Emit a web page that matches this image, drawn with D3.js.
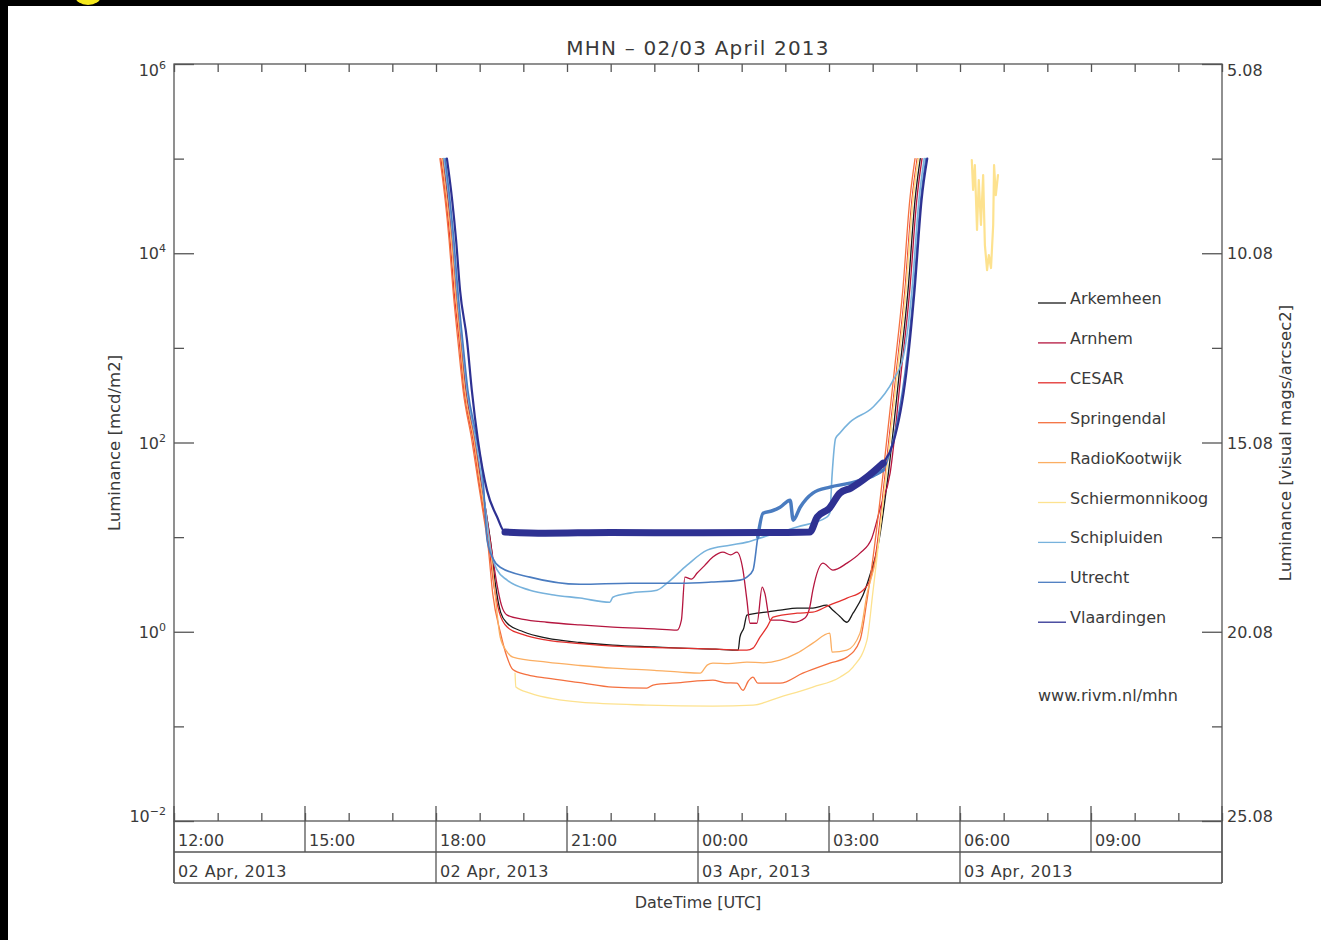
<!DOCTYPE html>
<html lang="en">
<head>
<meta charset="UTF-8">
<title>MHN - 02/03 April 2013</title>
<style>
  body { margin:0; background:#fff; }
  svg { display:block; font-family:"DejaVu Sans", sans-serif; }
  .frame { fill:none; stroke:#555; stroke-width:1.3; }
  .tick line, .rule { stroke:#555; stroke-width:1.3; }
  .domain { display:none; }
  text { fill:#3a3a3a; }
  .series { fill:none; stroke-linejoin:round; stroke-linecap:round; }
</style>
</head>
<body>
<svg id="chart" width="1321" height="940"></svg>
<script src="https://d3js.org/d3.v7.min.js"></script>
<script>
// hours counted from 02 Apr 2013 00:00 UTC, luminance in mcd/m2
var stations = ["Arkemheen", "Arnhem", "CESAR", "Springendal", "RadioKootwijk",
                "Schiermonnikoog", "Schipluiden", "Utrecht", "Vlaardingen"];
var stationColors = ["#1a1a1a", "#b5163f", "#e3302d", "#f4703f", "#fbae62",
                     "#fde28f", "#77b2dc", "#4a7cc0", "#2e3192"];

var arkemheen = [[18.16,1e5],[18.28,36500],[18.37,13800],[18.46,4090],[18.57,1210],[18.69,358],[18.89,106],[19.03,40],
  [19.15,17.9],[19.26,8.2],[19.36,3.2],[19.48,1.6],[19.63,1.23],[20.0,1.0],[20.54,0.855],[21.3,0.77],[22.05,0.722],
  [23.0,0.69],[23.59,0.671],[24.4,0.655],[24.92,0.639],[24.96,0.877],[25.05,1.1],[25.12,1.5],[25.35,1.57],[25.6,1.62],
  [25.88,1.69],[26.27,1.78],[26.63,1.78],[26.95,1.91],[27.09,1.69],[27.25,1.45],[27.41,1.26],[27.55,1.57],[27.78,2.44],
  [27.94,4.0],[28.12,8],[28.36,47.5],[28.61,541],[28.81,4090],[28.97,36500],[29.09,1e5]];
var arnhem = [[18.16,1e5],[18.28,36500],[18.37,13800],[18.46,4090],[18.57,1210],[18.69,358],[18.89,106],[19.03,40],
  [19.15,17.9],[19.26,8.2],[19.38,3.5],[19.5,1.9],[19.63,1.5],[20.0,1.35],[20.54,1.26],[21.3,1.18],[22.05,1.12],
  [23.0,1.07],[23.52,1.04],[23.62,1.33],[23.7,3.78],[23.85,3.6],[23.98,4.17],[24.15,5.0],[24.34,6.15],[24.57,6.94],
  [24.75,6.5],[24.89,6.94],[25.03,4.48],[25.12,2.16],[25.19,1.23],[25.35,1.23],[25.47,2.96],[25.53,2.56],[25.65,1.33],
  [25.88,1.33],[26.18,1.26],[26.45,1.4],[26.56,1.82],[26.63,2.75],[26.86,5.31],[27.09,4.48],[27.41,5.31],[27.71,6.77],
  [27.98,9.75],[28.17,20],[28.4,47.5],[28.65,541],[28.85,4090],[29.01,36500],[29.13,1e5]];
var cesar = [[18.11,1e5],[18.23,36500],[18.32,13800],[18.41,4090],[18.53,1210],[18.64,358],[18.85,106],[18.98,40],
  [19.1,17.9],[19.21,8.2],[19.33,3.0],[19.45,1.6],[19.63,1.12],[20.0,0.93],[20.54,0.815],[21.3,0.75],[22.05,0.705],
  [23.0,0.68],[23.59,0.671],[24.4,0.655],[25.12,0.639],[25.26,0.671],[25.42,0.877],[25.58,1.12],[25.72,1.43],
  [26.27,1.57],[26.63,1.61],[27.0,1.9],[27.41,2.27],[27.78,2.75],[27.94,3.51],[28.06,6.15],[28.29,47.5],[28.54,541],
  [28.74,4090],[28.9,36500],[29.02,1e5]];
var springendal = [[18.09,1e5],[18.21,36500],[18.3,13800],[18.39,4090],[18.5,1210],[18.62,358],[18.82,106],[18.96,40],
  [19.08,17.9],[19.19,8.2],[19.3,2.5],[19.47,1.0],[19.62,0.55],[19.76,0.4],[20.1,0.35],[20.54,0.323],[21.3,0.29],
  [22.05,0.26],[22.83,0.254],[22.97,0.273],[23.6,0.29],[24.34,0.308],[24.6,0.29],[24.89,0.286],[25.03,0.241],
  [25.15,0.3],[25.26,0.331],[25.37,0.286],[25.88,0.286],[26.4,0.365],[27.02,0.466],[27.41,0.539],[27.71,0.815],
  [27.87,2.16],[28.01,6.15],[28.24,47.5],[28.49,541],[28.69,4090],[28.85,36500],[28.97,1e5]];
var radioKootwijk = [[18.14,1e5],[18.25,36500],[18.35,13800],[18.44,4090],[18.55,1210],[18.66,358],[18.87,106],
  [19.0,40],[19.12,17.9],[19.24,8.2],[19.35,2.6],[19.47,0.88],[19.62,0.62],[19.76,0.539],[20.54,0.477],[21.3,0.44],
  [22.05,0.412],[23.0,0.39],[23.59,0.374],[24.05,0.365],[24.21,0.444],[24.34,0.466],[24.7,0.46],[25.12,0.477],
  [25.5,0.47],[25.88,0.501],[26.27,0.594],[26.63,0.758],[27.02,0.967],[27.07,0.608],[27.41,0.639],[27.71,0.967],
  [27.87,2.5],[28.08,6.15],[28.31,47.5],[28.56,541],[28.76,4090],[28.92,36500],[29.04,1e5]];
var schiermonnikoog = [[19.81,0.365],[19.83,0.26],[20.15,0.225],[20.7,0.195],[21.3,0.18],[22.83,0.168],[24.34,0.164],
  [25.26,0.168],[25.88,0.204],[26.63,0.26],[27.25,0.331],[27.55,0.423],[27.87,0.815],[28.0,2.5],[28.1,6.15],
  [28.31,47.5],[28.56,541],[28.76,4090],[28.92,36500],[29.04,1e5]];
var schiermonnikoogDawn = [[30.27,96600],[30.3,46600],[30.34,85600],[30.39,17600],[30.43,59400],[30.48,19900],
  [30.53,67100],[30.57,12200],[30.62,6640],[30.66,9570],[30.71,6980],[30.76,19900],[30.78,85600],[30.82,41200],
  [30.87,67100]];
var schipluiden = [[18.18,1e5],[18.3,36500],[18.39,13800],[18.48,4090],[18.59,1210],[18.71,358],[18.91,106],[19.05,40],
  [19.15,17],[19.24,7.83],[19.4,4.5],[19.63,3.51],[20.15,2.75],[20.7,2.45],[21.3,2.27],[21.98,2.05],[22.05,2.32],
  [22.44,2.56],[23.06,2.75],[23.29,3.26],[23.75,5.06],[24.21,7.29],[24.73,8.22],[25.12,8.85],[25.49,10],[26.27,12.8],
  [26.95,16.3],[27.02,18],[27.07,45],[27.15,110],[27.25,126],[27.48,164],[28.01,237],[28.47,457],[28.71,839],
  [28.9,4090],[29.06,36500],[29.18,1e5]];
var utrecht = [[18.21,1e5],[18.32,36500],[18.41,13800],[18.5,4090],[18.61,1210],[18.73,358],[18.94,106],[19.08,40],
  [19.17,9.3],[19.3,6],[19.47,4.8],[20.15,3.78],[21.3,3.18],[22.44,3.26],[23.59,3.26],[24.3,3.35],[24.96,3.51],
  [25.12,3.78],[25.26,4.48],[25.37,10],[25.49,17.9],[25.7,19],[25.88,20.7],[26.11,24.6],[26.18,15.1],[26.34,20.7],
  [26.63,29.2],[27.02,33.8],[27.48,37.2],[27.94,43],[28.24,51],[28.45,98],[28.74,541],[28.94,4090],[29.1,36500],
  [29.22,1e5]];
var vlaardingen = [[18.25,1e5],[18.37,36500],[18.46,13800],[18.55,4090],[18.71,1210],[18.82,358],[18.96,106],
  [19.17,31],[19.4,16.3],[19.58,11.3],[20.5,11.0],[22.0,11.2],[24.0,11.1],[26.0,11.2],[26.56,11.3],[26.73,16.3],
  [27.0,20],[27.25,29.2],[27.5,33],[27.87,43.1],[28.24,60.5],[28.47,98.6],[28.77,541],[28.96,4090],[29.12,36500],
  [29.25,1e5]];

var stationData = [arkemheen, arnhem, cesar, springendal, radioKootwijk, schiermonnikoog, schipluiden, utrecht, vlaardingen];

var lumTicks = [1e6, 1e4, 1e2, 1e0, 1e-2];
var lumMinor = [1e5, 1e3, 1e1, 1e-1];
var lumExponents = ["6", "4", "2", "0", "\u22122"];
var magTicks = [5.08, 10.08, 15.08, 20.08, 25.08];
var magMinor = [7.58, 12.58, 17.58, 22.58];
var dayLabels = ["02 Apr, 2013", "02 Apr, 2013", "03 Apr, 2013", "03 Apr, 2013"];

var L = 174, R = 1222, T = 64, B = 821;
var svg = d3.select('#chart');

function hourToDate(h) { return new Date(Date.UTC(2013, 3, 2) + h * 3600e3); }

var x = d3.scaleUtc().domain([hourToDate(12), hourToDate(36)]).range([L, R]);
var y = d3.scaleLog().domain([1e-2, 1e6]).range([B, T]);
var mag = d3.scaleLinear().domain([5.08, 25.08]).range([T, B]);

// screenshot border
svg.append('rect').attr('x', 0).attr('y', 0).attr('width', 1321).attr('height', 6).attr('fill', '#000');
svg.append('rect').attr('x', 0).attr('y', 0).attr('width', 8).attr('height', 940).attr('fill', '#000');
svg.append('ellipse').attr('cx', 88).attr('cy', -4).attr('rx', 13).attr('ry', 9).attr('fill', '#f5e81c');

svg.append('clipPath').attr('id', 'plotclip').append('rect')
  .attr('x', L).attr('y', T).attr('width', R - L).attr('height', B - T);

// data lines
var line = d3.line().x(d => x(hourToDate(d[0]))).y(d => y(d[1])).curve(d3.curveMonotoneX);
var rawLine = d3.line().x(d => x(hourToDate(d[0]))).y(d => y(d[1]));
var plot = svg.append('g').attr('clip-path', 'url(#plotclip)');

stationData.forEach(function(data, i){
  var w = (i == 8) ? 2.2 : (i >= 6 ? 1.6 : 1.3);
  plot.append('path').attr('class', 'series').attr('d', line(data))
    .attr('stroke', stationColors[i]).attr('stroke-width', w);
});
plot.append('path').attr('class', 'series').attr('d', rawLine(schiermonnikoogDawn))
  .attr('stroke', stationColors[5]).attr('stroke-width', 2.2);
// noisy stretches drawn as a wider band
plot.append('path').attr('class', 'series')
  .attr('d', line(utrecht.filter(d => d[0] > 25.3 && d[0] < 28.3)))
  .attr('stroke', stationColors[7]).attr('stroke-width', 3.5);
plot.append('path').attr('class', 'series')
  .attr('d', line(vlaardingen.filter(d => d[0] > 19.5 && d[0] < 28.3)))
  .attr('stroke', stationColors[8]).attr('stroke-width', 7);

// frame
svg.append('rect').attr('class', 'frame').attr('x', L).attr('y', T).attr('width', R - L).attr('height', B - T);

// y ticks left
svg.append('g').attr('transform', 'translate(' + L + ',0)')
  .call(d3.axisRight(y).tickValues(lumTicks).tickSize(20).tickFormat(''));
svg.append('g').attr('transform', 'translate(' + L + ',0)')
  .call(d3.axisRight(y).tickValues(lumMinor).tickSize(10).tickFormat(''));
// y ticks right
svg.append('g').attr('transform', 'translate(' + R + ',0)')
  .call(d3.axisLeft(mag).tickValues(magTicks).tickSize(20).tickFormat(''));
svg.append('g').attr('transform', 'translate(' + R + ',0)')
  .call(d3.axisLeft(mag).tickValues(magMinor).tickSize(10).tickFormat(''));

function edgeShift(i, n) { return i == 0 ? 6 : (i == n - 1 ? -5 : 0); }

lumTicks.forEach(function(v, i){
  var t = svg.append('text').attr('x', 166).attr('y', y(v) + 6 + edgeShift(i, lumTicks.length))
    .attr('text-anchor', 'end').style('font-size', '16px');
  t.append('tspan').text('10');
  t.append('tspan').attr('dy', -7).style('font-size', '11px').text(lumExponents[i]);
});
magTicks.forEach(function(v, i){
  svg.append('text').attr('x', 1227).attr('y', mag(v) + 6 + edgeShift(i, magTicks.length))
    .style('font-size', '16px').text(d3.format('.2f')(v));
});

// x ticks
var hours = x.ticks(d3.utcHour.every(1));
var threeHours = x.ticks(d3.utcHour.every(3));
svg.append('g').attr('transform', 'translate(0,' + T + ')')
  .call(d3.axisBottom(x).tickValues(hours).tickSize(8).tickFormat(''));
svg.append('g').attr('transform', 'translate(0,' + B + ')')
  .call(d3.axisTop(x).tickValues(hours).tickSize(8).tickFormat(''));

// time / date table under the axis
svg.selectAll('.sep').data(threeHours).enter().append('line').attr('class', 'rule')
  .attr('x1', d => x(d)).attr('x2', d => x(d))
  .attr('y1', B - 15).attr('y2', d => d.getUTCHours() % 6 == 0 ? 883 : 852);
[852, 883].forEach(function(yy){
  svg.append('line').attr('class', 'rule').attr('x1', L).attr('x2', R).attr('y1', yy).attr('y2', yy);
});
[L, R].forEach(function(xx){
  svg.append('line').attr('class', 'rule').attr('x1', xx).attr('x2', xx).attr('y1', B).attr('y2', 883);
});
svg.selectAll('.hlab').data(threeHours.slice(0, -1)).enter().append('text')
  .attr('x', d => x(d) + 4).attr('y', 846).style('font-size', '16px')
  .text(d3.utcFormat('%H:%M'));
svg.selectAll('.dlab').data(x.ticks(d3.utcHour.every(6)).slice(0, -1)).enter().append('text')
  .attr('x', d => x(d) + 4).attr('y', 877).style('font-size', '16px').style('letter-spacing', '0.4px')
  .text((d, i) => dayLabels[i]);

// titles
svg.append('text').attr('x', 698).attr('y', 55).attr('text-anchor', 'middle')
  .style('font-size', '20px').style('letter-spacing', '1.2px').text('MHN \u2013 02/03 April 2013');
svg.append('text').attr('x', 698).attr('y', 908).attr('text-anchor', 'middle')
  .style('font-size', '16px').text('DateTime [UTC]');
svg.append('text').attr('transform', 'translate(120,443) rotate(-90)').attr('text-anchor', 'middle')
  .style('font-size', '16.5px').text('Luminance [mcd/m2]');
svg.append('text').attr('transform', 'translate(1291,443) rotate(-90)').attr('text-anchor', 'middle')
  .style('font-size', '16.5px').text('Luminance [visual mags/arcsec2]');

// legend
stations.forEach(function(name, i){
  var ly = 303 + i * 39.9;
  svg.append('line').attr('x1', 1038).attr('x2', 1066).attr('y1', ly).attr('y2', ly)
    .attr('stroke', stationColors[i]).attr('stroke-width', 1.3);
  svg.append('text').attr('x', 1070).attr('y', ly + 1).style('font-size', '16px').text(name);
});
svg.append('text').attr('x', 1038).attr('y', 701).style('font-size', '16px').text('www.rivm.nl/mhn');
</script>
</body>
</html>
